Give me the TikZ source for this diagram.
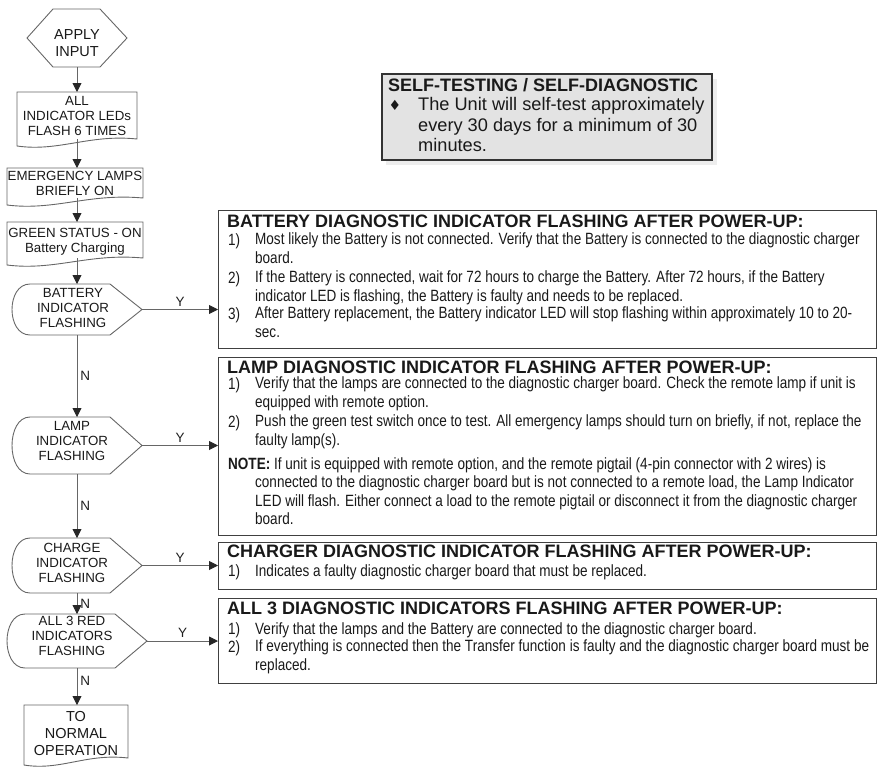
\documentclass[tikz,border=0pt]{standalone}
\usepackage{fontspec}
\setmainfont{Liberation Sans}
\newfontfamily\narrow[FakeStretch=0.83]{Liberation Sans}
\newfontfamily\dejavu{DejaVu Sans}
\usetikzlibrary{calc,arrows.meta}

\newcommand\docshape[1]{%
  \draw[flow] (#1.north west) -- (#1.north east) -- (#1.south east)
    .. controls ($(#1.south west)!0.6!(#1.south east)+(0,-5)$) and ($(#1.south west)!0.35!(#1.south east)+(0,13)$) ..
    ($(#1.south west)+(0,7)$) -- cycle;}
\newcommand\dispshape[1]{%
  \draw[flow] ($(#1.south west)+(18,0)$) .. controls ($(#1.south west)+(-6,0)$) and ($(#1.north west)+(-6,0)$) ..
    ($(#1.north west)+(18,0)$) -- ($(#1.north east)+(-32,0)$) -- (#1.east) -- ($(#1.south east)+(-32,0)$) -- cycle;}
\newcommand\hexshape[1]{%
  \draw[flow] (#1.west) -- ($(#1.north west)+(26,0)$) -- ($(#1.north east)+(-27,0)$) -- (#1.east)
    -- ($(#1.south east)+(-27,0)$) -- ($(#1.south west)+(26,0)$) -- cycle;}

\tikzset{
  flow/.style={draw=black!60, line width=0.9pt},
  arr/.style={flow, -{Triangle[width=9pt,length=9pt,color=black!85]}},
  shp/.style={inner sep=0, outer sep=0, draw=none},
  ftxt/.style={font=\fontsize{13.3}{15}\selectfont, align=center, inner sep=0, text=black!90},
  btxt/.style={font=\fontsize{14.5}{17}\selectfont, align=center, inner sep=0, text=black!90},
  lbl/.style={font=\fontsize{13.5}{15}\selectfont, inner sep=3pt, text=black!88},
  panel/.style={shp, draw=black!75, line width=1pt},
  ttl/.style={font=\bfseries\fontsize{18}{20}\selectfont, anchor=west, inner sep=0, text=black!90},
  itm/.style={font=\narrow\fontsize{16.3}{18.5}\selectfont, align=left, anchor=north west, inner sep=0, text=black!90, execute at begin node=\strut},
  stxt/.style={font=\fontsize{18.2}{20.5}\selectfont, align=left, anchor=north west, inner sep=0, text=black!90, execute at begin node=\strut},
}

\begin{document}
\begin{tikzpicture}[x=1pt,y=-1pt]
\useasboundingbox (0,0) rectangle (877,769);

% ---------- flowchart shapes ----------
\node[shp, minimum width=100pt, minimum height=58pt] (apply) at (77,38) {};
\node[shp, minimum width=120pt, minimum height=47pt] (b1) at (77,115.5) {};
\node[shp, minimum width=136pt, minimum height=30pt] (b2) at (75,183) {};
\node[shp, minimum width=136pt, minimum height=36pt] (b3) at (75,240) {};
\node[shp, minimum width=130pt, minimum height=51pt] (d1) at (77,309.5) {};
\node[shp, minimum width=130pt, minimum height=57pt] (d2) at (77,445.5) {};
\node[shp, minimum width=130pt, minimum height=55pt] (d3) at (77,565.5) {};
\node[shp, minimum width=140pt, minimum height=54pt] (d4) at (77,641) {};
\node[shp, minimum width=104pt, minimum height=53pt] (b4) at (76,731.5) {};

\hexshape{apply}
\docshape{b1}
\docshape{b2}
\docshape{b3}
\dispshape{d1}
\dispshape{d2}
\dispshape{d3}
\dispshape{d4}
\docshape{b4}

\node[btxt] (applyt) at (77,43.5) {APPLY\\INPUT};
\node[ftxt] (b1t) at (77,116) {ALL\\INDICATOR LEDs\\FLASH 6 TIMES};
\node[ftxt] (b2t) at (75,183.5) {EMERGENCY LAMPS\\BRIEFLY ON};
\node[ftxt] (b3t) at (75,241.5) {GREEN STATUS - ON\\Battery Charging};
\node[ftxt] (d1t) at (73,308) {BATTERY\\INDICATOR\\FLASHING};
\node[ftxt] (d2t) at (72,441) {LAMP\\INDICATOR\\FLASHING};
\node[ftxt] (d3t) at (72,563) {CHARGE\\INDICATOR\\FLASHING};
\node[ftxt] (d4t) at (72,636) {ALL 3 RED\\INDICATORS\\FLASHING};
\node[btxt] (b4t) at (76,733) {TO\\NORMAL\\OPERATION};

% ---------- right panels ----------
\fill[black!7] (386,79) rectangle (717,165);
\node[shp, draw=black!80, line width=1.4pt, fill=black!11, minimum width=330pt, minimum height=86pt] (sT) at (547,117) {};
\node[ttl] (sTt) at (388,85) {SELF-TESTING / SELF-DIAGNOSTIC};
\node[font=\dejavu\fontsize{14}{16}\selectfont, inner sep=0, text=black!90] (sTb) at (395,105) {♦};
\node[stxt] (sTx) at (418,97.3) {The Unit will self-test approximately\\every 30 days for a minimum of 30\\minutes.};

\node[panel, minimum width=658pt, minimum height=138pt] (bA) at (547,279) {};
\node[panel, minimum width=658pt, minimum height=178pt] (bB) at (547,446) {};
\node[panel, minimum width=658pt, minimum height=47pt] (bC) at (547,565.5) {};
\node[panel, minimum width=658pt, minimum height=85pt] (bD) at (547,640.5) {};

% box A
\node[ttl] (tA) at (227,221) {BATTERY DIAGNOSTIC INDICATOR FLASHING AFTER POWER-UP:};
\node[itm] (nA1) at (228,232.5) {1)};
\node[itm] (tA1) at (255,232.5) {Most likely the Battery is not connected. Verify that the Battery is connected to the diagnostic charger\\board.};
\node[itm] (nA2) at (228,270.5) {2)};
\node[itm] (tA2) at (255,270.5) {If the Battery is connected, wait for 72 hours to charge the Battery. After 72 hours, if the Battery\\indicator LED is flashing, the Battery is faulty and needs to be replaced.};
\node[itm] (nA3) at (228,306.5) {3)};
\node[itm] (tA3) at (255,306.5) {After Battery replacement, the Battery indicator LED will stop flashing within approximately 10 to 20-\\sec.};

% box B
\node[ttl] (tB) at (227,367) {LAMP DIAGNOSTIC INDICATOR FLASHING AFTER POWER-UP:};
\node[itm] (nB1) at (228,376.5) {1)};
\node[itm] (tB1) at (255,376.5) {Verify that the lamps are connected to the diagnostic charger board. Check the remote lamp if unit is\\equipped with remote option.};
\node[itm] (nB2) at (228,414.5) {2)};
\node[itm] (tB2) at (255,414.5) {Push the green test switch once to test. All emergency lamps should turn on briefly, if not, replace the\\faulty lamp(s).};
\node[itm] (nB3) at (228,456.5) {\textbf{NOTE:} If unit is equipped with remote option, and the remote pigtail (4-pin connector with 2 wires) is};
\node[itm] (tB3) at (255,475.5) {connected to the diagnostic charger board but is not connected to a remote load, the Lamp Indicator\\LED will flash. Either connect a load to the remote pigtail or disconnect it from the diagnostic charger\\board.};

% box C
\node[ttl] (tC) at (227,551) {CHARGER DIAGNOSTIC INDICATOR FLASHING AFTER POWER-UP:};
\node[itm] (nC1) at (228,563.5) {1)};
\node[itm] (tC1) at (255,563.5) {Indicates a faulty diagnostic charger board that must be replaced.};

% box D
\node[ttl] (tD) at (227,608) {ALL 3 DIAGNOSTIC INDICATORS FLASHING AFTER POWER-UP:};
\node[itm] (nD1) at (228,621.5) {1)};
\node[itm] (tD1) at (255,621.5) {Verify that the lamps and the Battery are connected to the diagnostic charger board.};
\node[itm] (nD2) at (228,639.5) {2)};
\node[itm] (tD2) at (255,639.5) {If everything is connected then the Transfer function is faulty and the diagnostic charger board must be\\replaced.};

% ---------- connectors ----------
\draw[arr] (apply.south) -- (b1.north);
\draw[arr] (b1.south) -- (b1.south |- b2.north);
\draw[arr] (b1.south |- b2.south) -- (b1.south |- b3.north);
\draw[arr] (b1.south |- b3.south) -- (d1.north);
\draw[arr] (d1.south) -- node[lbl, right] (n1) {N} (d2.north);
\draw[arr] (d2.south) -- node[lbl, right] (n2) {N} (d3.north);
\draw[arr] (d3.south) -- node[lbl, right] (n3) {N} (d4.north);
\draw[arr] (d4.south) -- node[lbl, right, pos=0.35] (n4) {N} (d4.south |- b4.north);
\draw[arr] (d1.east) -- node[lbl, above] (y1) {Y} (d1.east -| bA.west);
\draw[arr] (d2.east) -- node[lbl, above] (y2) {Y} (d2.east -| bB.west);
\draw[arr] (d3.east) -- node[lbl, above] (y3) {Y} (d3.east -| bC.west);
\draw[arr] (d4.east) -- node[lbl, above] (y4) {Y} (d4.east -| bD.west);
\end{tikzpicture}
\end{document}
